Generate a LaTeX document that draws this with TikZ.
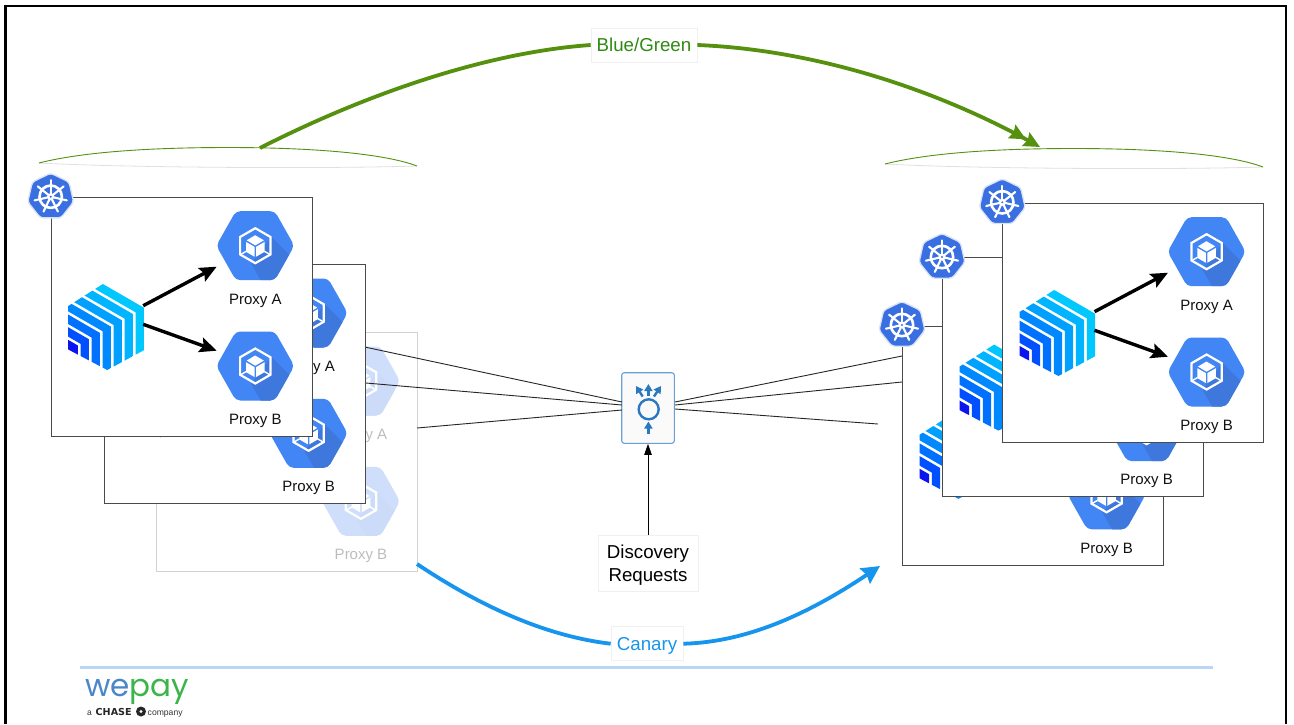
\documentclass[tikz,border=0pt]{standalone}
\usepackage{fontspec}
\setmainfont{Liberation Sans}
\newfontfamily\wpfont{Poppins}
\newfontfamily\chasefont{DejaVu Sans}
\usetikzlibrary{arrows.meta,calc}
\definecolor{hexbase}{HTML}{4285F4}
\definecolor{hexdark}{HTML}{3F78DC}
\definecolor{boxline}{HTML}{4A4A4A}
\definecolor{boxtext}{HTML}{111111}
\definecolor{k8sblue}{HTML}{3A6FE2}
\definecolor{switchblue}{HTML}{2A78C0}
\definecolor{greenline}{HTML}{55900F}
\definecolor{greentext}{HTML}{2E8B12}
\definecolor{blueline}{HTML}{1795EE}
\definecolor{labelline}{HTML}{F0F0F0}
\definecolor{rulecol}{HTML}{BBD6F5}
\tikzset{
  panelbox/.style={draw=boxline,fill=white,line width=1.1pt,anchor=north west,minimum width=261pt,minimum height=239pt,inner sep=0pt},
  proxytext/.style={text=boxtext,font=\fontsize{15}{18}\selectfont,inner sep=0pt},
  flowarrow/.style={line width=3.4pt,black,-{Stealth[length=17pt,width=15pt,inset=3pt]}},
  thinlink/.style={line width=0.9pt,black!85},
  tag/.style={draw=labelline,fill=white,line width=0.7pt,inner sep=0pt,font=\fontsize{18.7}{23}\selectfont},
  greencurve/.style={line width=3.8pt,greenline},
  bluecurve/.style={line width=3.8pt,blueline},
  icoarrow/.style={line width=2.4pt,switchblue,-{Stealth[length=7pt,width=8pt,inset=0pt]}}
}
% proxy hexagon: name, x, y
\newcommand\proxyhex[3]{%
  \begin{scope}[shift={(#2,#3)}]
    \coordinate (#1) at (0,0);
    \fill[hexbase,rounded corners=4.5pt] (-39,0)--(-19.5,-34.5)--(19.5,-34.5)--(39,0)--(19.5,34.5)--(-19.5,34.5)--cycle;
    \begin{scope}
      \clip[rounded corners=4.5pt] (-39,0)--(-19.5,-34.5)--(19.5,-34.5)--(39,0)--(19.5,34.5)--(-19.5,34.5)--cycle;
      \fill[hexdark] (16,-9)--(60,35)--(20,60)--(-4,18)--cycle;
    \end{scope}
    \draw[white,line width=2.2pt,line join=miter] (90:17.5)--(30:17.5)--(-30:17.5)--(-90:17.5)--(-150:17.5)--(150:17.5)--cycle;
    \fill[white] (-0.2,-10.5)--(8.6,-5.4)--(0,-0.3)--(-8.6,-5.4)--cycle;
    \fill[white] (-9.3,-3.8)--(-0.8,1.1)--(-0.8,11)--(-9.3,6.1)--cycle;
    \fill[white] (9.3,-3.8)--(0.8,1.1)--(0.8,11)--(9.3,6.1)--cycle;
    \draw[white,line width=1.4pt] (-9,5.5)--(-15,9) (9,5.5)--(15,9);
  \end{scope}}
% striped logo
\newcommand\stripelogo[3]{%
  \begin{scope}[shift={(#2,#3)}]
    \coordinate (#1) at (0,0);
    \begin{scope}
      \clip (-1.5,-43.5)--(38.5,-19.5)--(38.5,23.5)--(0.5,44)--(-38.5,23.5)--(-38.5,-20)--cycle;
      \foreach \k/\c in {0/00C8FF,1/00B4FF,2/00A0FF,3/0088FF,4/0070FF,5/0050FF,6/0A14F0}{
        \definecolor{stripecol}{HTML}{\c}
        \draw[stripecol,line width=8.2pt,line join=miter]
          ($(33-11*\k,-16+6.3*\k)+(-90,-52)$)--(33-11*\k,-16+6.3*\k)--(33-11*\k,80);
      }
    \end{scope}
  \end{scope}}
% kubernetes badge
\newcommand\kbadge[3]{%
  \begin{scope}[shift={(#2,#3)}]
    \coordinate (#1) at (0,0);
    \draw[k8sblue!20!white,fill=k8sblue,line width=1.3pt,rounded corners=3pt,line join=round]
      (-90:23.5)--(-38.6:23.5)--(12.9:23.5)--(64.3:23.5)--(115.7:23.5)--(167.1:23.5)--(218.6:23.5)--cycle;
    \draw[white,line width=2.6pt] (0,0) circle (11.2);
    \fill[white] (0,0) circle (3.6);
    \fill[k8sblue] (0,0) circle (1.1);
    \foreach \a in {-90,-38.6,12.9,64.3,115.7,167.1,218.6}{
      \draw[white,line width=2.1pt,line cap=round] (\a:3)--(\a:16.5);
    }
  \end{scope}}
% panel: name, x, y
\newcommand\panel[3]{%
  \node[panelbox] (#1) at (#2,#3) {};
  \begin{scope}[shift={(#2,#3)}]
    \stripelogo{#1-logo}{56}{129.3}
    \proxyhex{#1-a}{204.6}{49}
    \proxyhex{#1-b}{204.6}{169.3}
    \node[proxytext] (#1-at) at (204.6,104) {Proxy A};
    \node[proxytext] (#1-bt) at (204.6,224) {Proxy B};
    \coordinate (#1-o1) at (92.5,109);
    \coordinate (#1-o2) at (92.5,127.6);
    \coordinate (#1-ia) at (166,70);
    \coordinate (#1-ib) at (166,154);
    \draw[flowarrow] (#1-o1)--(#1-ia);
    \draw[flowarrow] (#1-o2)--(#1-ib);
  \end{scope}}
% cluster lens
\newcommand\lens[3]{%
  \begin{scope}[shift={(#2,#3)}]
    \draw[fill=white,draw=black!12,line width=0.8pt] (39,163) .. controls (120,167.5) and (320,169) .. (417,166);
    \draw[greenline,line width=0.9pt] (39,163) .. controls (90,150) and (170,147.5) .. (228,147.5) .. controls (300,147.5) and (380,152) .. (417,166);
    \coordinate (#1) at (228,147.5);
  \end{scope}}
\begin{document}
\begin{tikzpicture}[x=1pt,y=-1pt]
\useasboundingbox (0,0) rectangle (1294,724);
\fill[white] (0,0) rectangle (1294,724);
\coordinate (fa) at (5.5,724);
\coordinate (fb) at (5.5,6.2);
\coordinate (fc) at (1286,6.2);
\coordinate (fd) at (1286,724);
\draw[black,line width=2.4pt] (fa)--(fb)--(fc)--(fd);

\lens{lensL}{0}{0}
\lens{lensR}{846}{1}

% faint panel
\begin{scope}
  \definecolor{hexbase}{HTML}{CFDFFB}
  \definecolor{hexdark}{HTML}{CBDBF8}
  \definecolor{boxline}{HTML}{D2D2D2}
  \definecolor{boxtext}{HTML}{BDBDBD}
  \node[panelbox] (L3) at (156.3,332) {};
  \proxyhex{L3-a}{361}{381}
  \proxyhex{L3-b}{361}{501.3}
  \node[proxytext] (L3-at) at (361,436) {Proxy A};
  \node[proxytext] (L3-bt) at (361,556) {Proxy B};
\end{scope}

% switch
\node[draw=switchblue!70!white,fill=black!2,rounded corners=2.5pt,line width=1.1pt,minimum width=52.6pt,minimum height=70.6pt,inner sep=0pt] (sw) at (648,408) {};
\draw[switchblue,line width=2.4pt] (648.7,409.3) circle (10);
\coordinate (ia0) at (648.4,395.5); \coordinate (ia1) at (648.4,384);
\coordinate (ib0) at (642.7,396.5); \coordinate (ib1) at (636,386);
\coordinate (ic0) at (654,396.5); \coordinate (ic1) at (661,386);
\coordinate (id0) at (648.4,434); \coordinate (id1) at (648.4,421.5);
\draw[icoarrow] (ia0)--(ia1);
\draw[icoarrow] (ib0)--(ib1);
\draw[icoarrow] (ic0)--(ic1);
\draw[icoarrow] (id0)--(id1);

% links
\coordinate (sl1) at (622,402); \coordinate (sl2) at (622,405); \coordinate (sl3) at (622,410);
\coordinate (sr1) at (675,402); \coordinate (sr2) at (675,405); \coordinate (sr3) at (675,409);
\coordinate (pl1) at (360,346); \coordinate (pl2) at (360,382.5); \coordinate (pl3) at (417,428);
\coordinate (pr1) at (902,356); \coordinate (pr2) at (902,382); \coordinate (pr3) at (878,424);
\draw[thinlink] (pl1)--(sl1);
\draw[thinlink] (pl2)--(sl2);
\draw[thinlink] (pl3)--(sl3);
\draw[thinlink] (pr1)--(sr1);
\draw[thinlink] (pr2)--(sr2);
\draw[thinlink] (pr3)--(sr3);

% left panels
\panel{L2}{104}{264}
\panel{L1}{50.7}{196.7}
\kbadge{kL1}{50.7}{196.7}

% right panels
\panel{R3}{902}{325.5}
\kbadge{kR3}{902}{325}
\panel{R2}{942}{257.3}
\kbadge{kR2}{942}{257}
\panel{R1}{1002}{202.7}
\kbadge{kR1}{1002.3}{202.3}

% discovery
\node[tag,minimum width=100pt,minimum height=56pt] (disc) at (648,563) {};
\node[inner sep=0pt,text=black,align=center,font=\fontsize{18.7}{23}\selectfont] (disct) at (648,565) {Discovery\\Requests};
\draw[line width=0.9pt,black,-{Stealth[length=11pt,width=7.5pt,inset=0pt]}] (disc.north)--(sw.south);

% blue/green
\node[tag,text=greentext,minimum width=106pt,minimum height=34pt] (bg) at (644,45) {\raisebox{0pt}{Blue/Green}};
\coordinate (gs) at (260,148);
\coordinate (ge) at (1040,147);
\draw[greencurve] (gs) .. controls (370,92) and (490,52) .. (bg.west);
\draw[greencurve,-{Stealth[length=16pt,width=15pt,inset=2pt]Stealth[length=16pt,width=15pt,inset=2pt]}] (bg.east) .. controls (820,50) and (940,92) .. (ge);

% canary
\node[tag,minimum width=72pt,minimum height=34pt] (can) at (647,643.7) {};
\node[inner sep=0pt,text=blueline,font=\fontsize{18.7}{23}\selectfont] (cant) at (647,645.7) {Canary};
\coordinate (cs) at (417,564);
\coordinate (ce) at (880,566);
\draw[bluecurve] (cs) .. controls (480,606) and (545,636) .. (can.west);
\draw[bluecurve,-{Stealth[length=18pt,width=18pt,inset=2pt]}] (can.east) .. controls (755,642) and (820,606) .. (ce);

% footer
\coordinate (ra) at (80,667.5);
\coordinate (rb) at (1212.5,667.5);
\draw[line width=3.2pt,rulecol] (ra)--(rb);
\node[anchor=base west,inner sep=0pt,font=\wpfont\fontsize{31}{36}\selectfont] (wp) at (85,696) {\textcolor[HTML]{4A86C8}{we}\textcolor[HTML]{3BB54A}{pay}};
\node[anchor=base west,inner sep=0pt,font=\fontsize{8.5}{10}\selectfont,text=black!80] (cha) at (87,715) {a};
\node[anchor=base west,inner sep=0pt,font=\chasefont\bfseries\fontsize{9.6}{10}\selectfont,text=black!85] (chb) at (95.5,715) {CHASE};
\fill[black!85] (141,711.5) circle (5);
\fill[white] (141,711.5) circle (1.7);
\node[anchor=base west,inner sep=0pt,font=\fontsize{8.6}{10}\selectfont,text=black!80] (chc) at (147.5,715) {company};
\end{tikzpicture}
\end{document}
